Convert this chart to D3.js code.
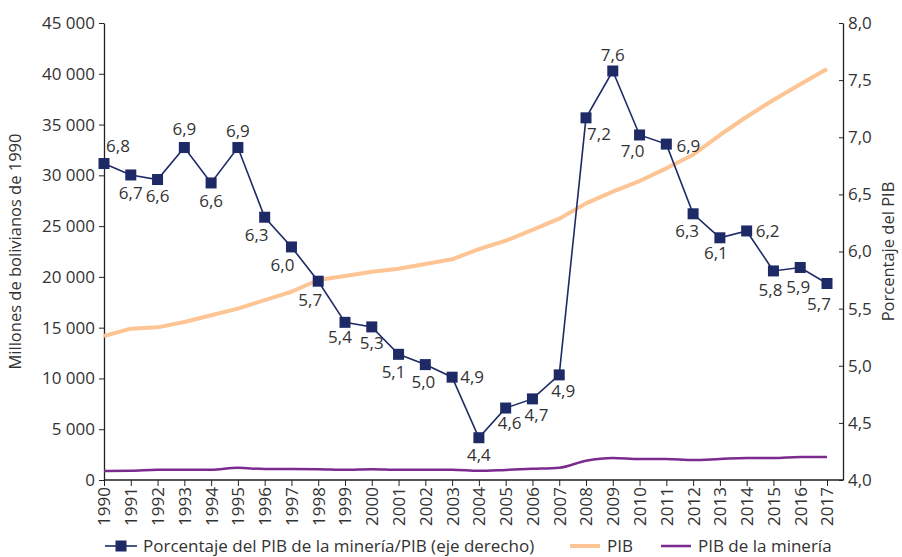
<!DOCTYPE html>
<html>
<head>
<meta charset="utf-8">
<script src="https://cdn.jsdelivr.net/npm/d3@7"></script>
<style>
  body { margin: 0; background: #fff; }
  text { font-family: "Open Sans", "Noto Sans", sans-serif; fill: #333; }
</style>
</head>
<body>
<script>
// DATA
const years = d3.range(1990, 2018);
const pctMineria = [6.77, 6.67, 6.63, 6.91, 6.60, 6.91, 6.30, 6.04, 5.74, 5.38, 5.34, 5.10, 5.01, 4.90,
                    4.37, 4.63, 4.71, 4.92, 7.17, 7.58, 7.02, 6.94, 6.33, 6.12, 6.18, 5.83, 5.86, 5.72];
const pib = [14180, 14900, 15030, 15560, 16220, 16870, 17720, 18540, 19690, 20090, 20510, 20800, 21270, 21730,
             22740, 23560, 24620, 25730, 27240, 28390, 29440, 30690, 32030, 33970, 35770, 37420, 38960, 40470];
const pibMineria = [890, 900, 1000, 1000, 1010, 1200, 1080, 1080, 1070, 1000, 1070, 1000, 1000, 1000,
                    900, 990, 1100, 1210, 1900, 2170, 2070, 2070, 1970, 2070, 2170, 2170, 2270, 2270];
const leftTicks = d3.range(0, 45001, 5000);
const rightTicks = d3.range(4, 8.01, 0.5);
const legendLabels = ["Porcentaje del PIB de la minería/PIB (eje derecho)", "PIB", "PIB de la minería"];

// LABEL PLACEMENT (offset of each value label from its marker)
const labelPos = [[14, -17], [0, 18], [0, 17], [0, -18], [0, 18], [0, -16], [-8, 18], [-9, 18], [-8, 19],
                  [-5, 15], [0, 16], [-5, 18], [-2, 17], [20, 0], [0, 17], [4, 15], [4, 16], [4, 16],
                  [13, 16], [0, -16], [-7, 16], [22, 2], [-6, 17], [-4, 15], [21, 0], [-3, 19], [-2, 20], [-8, 21]];

// CREATE VALUES
const width = 902, height = 557;
const plot = {left: 104, right: 843, top: 23, bottom: 480};
const colNavy = "#1e2a66", colPib = "#fdc594", colMin = "#7b2a8e";
const fs = "17px";

const locale = d3.formatLocale({decimal: ",", thousands: " ", grouping: [3], currency: ["", ""]});

var svg = d3.select("body").append("svg")
  .attr("width", width)
  .attr("height", height);

// SCALES
var x = d3.scaleLinear()
  .domain([1990, 2017])
  .range([plot.left, 827]);
var yL = d3.scaleLinear()
  .domain([0, 45000])
  .range([plot.bottom, plot.top]);
var yR = d3.scaleLinear()
  .domain([4, 8])
  .range([plot.bottom, plot.top]);

// AXES
var gx = svg.append("g")
  .attr("transform", `translate(0,${plot.bottom})`)
  .call(d3.axisBottom(x).tickValues(years).tickFormat(d3.format("d")).tickSize(6).tickSizeOuter(0));
gx.select(".domain").remove();
gx.append("line")
  .attr("x1", plot.left).attr("x2", plot.right)
  .attr("stroke", "#222").attr("stroke-width", 1.3);
gx.selectAll(".tick line").attr("stroke", "#222");
gx.selectAll("text")
  .style("font-size", fs)
  .style("text-anchor", "end")
  .attr("transform", "rotate(-90)")
  .attr("x", -7)
  .attr("y", 0)
  .attr("dy", ".35em");

var gl = svg.append("g")
  .attr("transform", `translate(${plot.left},0)`)
  .call(d3.axisLeft(yL).tickValues(leftTicks).tickFormat(locale.format(",d")).tickSize(5).tickSizeOuter(0));
gl.select(".domain").attr("stroke", "#222").attr("stroke-width", 1.3);
gl.selectAll(".tick line").attr("stroke", "#222");
gl.selectAll("text").style("font-size", fs).attr("x", -9);

var gr = svg.append("g")
  .attr("transform", `translate(${plot.right},0)`)
  .call(d3.axisRight(yR).tickValues(rightTicks).tickFormat(locale.format(",.1f")).tickSize(-4).tickSizeOuter(0));
gr.select(".domain").attr("stroke", "#222").attr("stroke-width", 1.3);
gr.selectAll(".tick line").attr("stroke", "#222");
gr.selectAll("text").style("font-size", fs).attr("x", 5);

// AXIS TITLES
svg.append("text")
  .attr("transform", `translate(21,${(plot.top + plot.bottom) / 2}) rotate(-90)`)
  .attr("text-anchor", "middle")
  .style("font-size", "16.5px")
  .text("Millones de bolivianos de 1990");
svg.append("text")
  .attr("transform", `translate(894,${(plot.top + plot.bottom) / 2}) rotate(-90)`)
  .attr("text-anchor", "middle")
  .style("font-size", "16.5px")
  .text("Porcentaje del PIB");

// PIB LINE
svg.append("path")
  .datum(pib)
  .attr("fill", "none")
  .attr("stroke", colPib)
  .attr("stroke-width", 4)
  .attr("stroke-linejoin", "round")
  .attr("d", d3.line().x((d, i) => x(years[i])).y(d => yL(d)));

// PIB MINERIA LINE
svg.append("path")
  .datum(pibMineria)
  .attr("fill", "none")
  .attr("stroke", colMin)
  .attr("stroke-width", 2.5)
  .attr("stroke-linejoin", "round")
  .attr("d", d3.line().x((d, i) => x(years[i])).y(d => yL(d)).curve(d3.curveMonotoneX));

// PERCENT LINE + MARKERS
svg.append("path")
  .datum(pctMineria)
  .attr("fill", "none")
  .attr("stroke", colNavy)
  .attr("stroke-width", 1.6)
  .attr("d", d3.line().x((d, i) => x(years[i])).y(d => yR(d)));

svg.append("g").selectAll("rect")
  .data(pctMineria)
  .join("rect")
  .attr("x", (d, i) => x(years[i]) - 5.5)
  .attr("y", d => yR(d) - 5.5)
  .attr("width", 11)
  .attr("height", 11)
  .attr("fill", colNavy);

// VALUE LABELS
svg.append("g").selectAll("text")
  .data(pctMineria)
  .join("text")
  .attr("x", (d, i) => x(years[i]) + labelPos[i][0])
  .attr("y", (d, i) => yR(d) + labelPos[i][1])
  .attr("dy", ".35em")
  .attr("text-anchor", "middle")
  .style("font-size", fs)
  .text(d => locale.format(".1f")(d));

// LEGEND
var leg = svg.append("g").attr("transform", "translate(0,546)");
leg.append("line").attr("x1", 105).attr("x2", 137).attr("stroke", colNavy).attr("stroke-width", 1.6);
leg.append("rect").attr("x", 115.5).attr("y", -5.5).attr("width", 11).attr("height", 11).attr("fill", colNavy);
leg.append("text").attr("x", 143).attr("dy", ".35em").style("font-size", fs).text(legendLabels[0]);
leg.append("line").attr("x1", 570).attr("x2", 600).attr("stroke", colPib).attr("stroke-width", 4);
leg.append("text").attr("x", 607).attr("dy", ".35em").style("font-size", fs).text(legendLabels[1]);
leg.append("line").attr("x1", 661).attr("x2", 691).attr("stroke", colMin).attr("stroke-width", 2.5);
leg.append("text").attr("x", 698).attr("dy", ".35em").style("font-size", fs).text(legendLabels[2]);
</script>
</body>
</html>
